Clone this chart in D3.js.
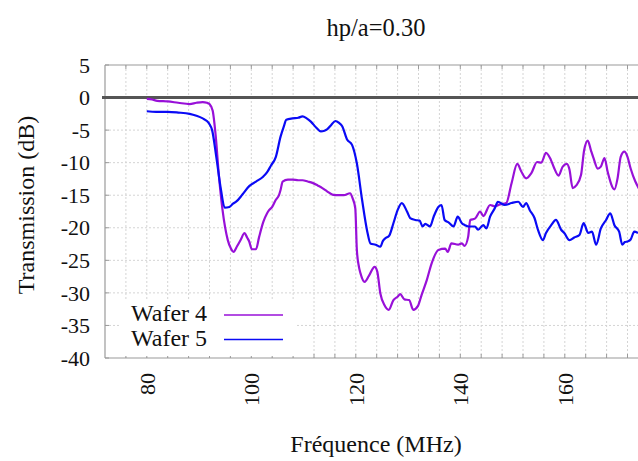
<!DOCTYPE html>
<html>
<head>
<meta charset="utf-8">
<script src="https://cdn.jsdelivr.net/npm/d3@7"></script>
<style>
  html, body { margin: 0; padding: 0; background: #fff; }
  svg { display: block; font-family: "Liberation Serif", "Times New Roman", serif; }
</style>
</head>
<body>
<svg id="chart" width="638" height="461"></svg>
<script>
// Measured transmission spectra (frequency in MHz, transmission in dB)
const freqW4 = [80, 81, 82, 84, 86, 88.2, 89.5, 90.7, 91.5, 92, 92.6, 93.2, 93.8, 94.5, 95.5, 96.1, 96.6, 97.3, 98, 98.7, 99.2, 99.6, 100.1, 100.9, 101.5, 102.3, 103, 103.4, 104, 104.7, 105.3, 105.6, 106, 107, 107.9, 109, 109.8, 110.8, 111.7, 112.7, 113.6, 114.5, 115.5, 116.5, 117.7, 118.9, 119.4, 119.9, 120.2, 120.6, 120.9, 121.7, 122.5, 123.6, 124.1, 124.7, 125.5, 126.3, 127.2, 128, 128.5, 129.3, 130.2, 131, 131.9, 132.6, 133.6, 134.5, 135.8, 137.1, 137.6, 138.3, 139.6, 140.3, 140.8, 141.5, 141.9, 142.8, 143.8, 144.4, 145.7, 146.6, 147.6, 148.8, 149.8, 150.9, 151.7, 152.6, 153.6, 154.7, 155.5, 156.4, 157.3, 158, 158.8, 159.6, 160.4, 160.9, 161.5, 162.2, 163.1, 163.7, 164.4, 165, 165.5, 166.3, 166.9, 167.6, 168.2, 169.5, 170.1, 170.7, 171.4, 172, 172.6, 173.5, 174.2];
const dbW4 = [-0.2, -0.3, -0.5, -0.6, -0.8, -1.0, -0.8, -0.7, -0.8, -1.0, -2.0, -6, -12, -17.3, -21.9, -23.2, -23.7, -22.8, -21.8, -20.8, -21.5, -22.1, -23.3, -23.3, -21.4, -19.1, -17.8, -17.3, -16.8, -15.7, -15.0, -14.2, -12.9, -12.6, -12.6, -12.7, -12.7, -12.9, -13.1, -13.5, -13.9, -14.4, -14.9, -15.0, -15.0, -14.7, -15.5, -17, -23.4, -26, -27, -28.3, -27.4, -26.0, -26.7, -30.1, -31.9, -32.6, -31.1, -30.6, -30.2, -31.0, -31.1, -32.6, -32.0, -30.3, -28.0, -25.5, -23.4, -23.2, -23.7, -22.4, -22.6, -22.4, -22.8, -21.4, -18.8, -18.6, -17.5, -18.2, -16.5, -16.7, -16.4, -16.2, -13.2, -10.2, -11.4, -12.4, -11.6, -9.9, -10.0, -8.5, -9.5, -10.9, -12.0, -10.6, -10.2, -11.1, -13.9, -13.5, -11.9, -8.1, -6.6, -8.1, -9.3, -10.9, -10.6, -9.3, -11.4, -14.1, -12.4, -9.1, -8.3, -9.1, -10.9, -12.9, -14];

const freqW5 = [80, 81.8, 84, 86, 88.2, 89.5, 90.7, 91.5, 92, 92.5, 93.3, 94.2, 94.9, 95.8, 96.5, 97.1, 98.3, 99.6, 100.9, 102.2, 103, 103.8, 104.7, 105.6, 106.2, 106.7, 107.9, 109, 109.8, 110.6, 111.4, 112.4, 113.3, 114, 114.5, 115.3, 116.1, 116.8, 117.4, 118.3, 119.3, 120.2, 121.2, 122.2, 122.8, 123.8, 124.7, 125.2, 125.7, 126.4, 127.2, 128, 128.8, 129.8, 130.4, 131.4, 132.2, 132.8, 133.3, 134.2, 134.9, 135.8, 136.4, 137, 137.8, 138.7, 139.5, 140.3, 140.9, 141.5, 142.8, 143.4, 144.4, 145, 145.7, 146.6, 147.2, 148.5, 149.8, 151.1, 152, 152.6, 153.3, 154.2, 154.9, 155.8, 156.4, 157.4, 158.3, 159.3, 159.9, 160.9, 161.8, 162.8, 163.6, 164.5, 165.2, 166, 166.9, 167.9, 168.7, 169.5, 170.4, 171, 171.5, 172, 172.6, 173.3, 174];
const dbW5 = [-2.1, -2.2, -2.2, -2.3, -2.5, -2.8, -3.2, -3.6, -4.1, -5.0, -9.1, -14.2, -16.9, -16.8, -16.3, -16.0, -14.9, -13.6, -12.9, -12.2, -11.5, -10.4, -9.1, -6.0, -4.5, -3.4, -3.2, -3.1, -2.9, -3.2, -3.7, -4.6, -5.2, -5.1, -4.9, -4.2, -3.6, -3.9, -4.4, -6.4, -7.3, -10.1, -15.7, -20.6, -22.4, -22.6, -22.9, -22.0, -21.6, -21.2, -19.3, -17.3, -16.2, -17.5, -18.5, -18.8, -18.9, -19.8, -19.4, -19.8, -18.3, -16.8, -16.5, -18.8, -19.2, -19.8, -18.3, -19.3, -19.6, -19.8, -19.8, -20.3, -19.6, -20.1, -18.3, -17.0, -16.0, -16.5, -16.2, -16.0, -16.8, -16.2, -17.3, -18.5, -20.4, -21.9, -20.8, -19.6, -18.8, -20.3, -20.8, -21.9, -21.5, -21.1, -19.3, -20.8, -20.6, -22.6, -20.1, -18.8, -17.8, -19.6, -20.6, -22.6, -22.2, -22.1, -21.8, -20.6, -20.8];

const seriesNames = ["Wafer 4", "Wafer 5"];
const seriesColors = ["#9810d8", "#0a0af5"];
const xLabelTicks = [80, 100, 120, 140, 160];
const yTicks = [5, 0, -5, -10, -15, -20, -25, -30, -35, -40];
const chartTitle = "hp/a=0.30";
const xTitle = "Fréquence (MHz)";
const yTitle = "Transmission (dB)";

const svg = d3.select("#chart");
const plotLeft = 105, plotTop = 65, plotBottom = 358, plotRight = 648.4, plotEdge = 638;

const x = d3.scaleLinear().domain([72, 176]).range([plotLeft, plotRight]);
const y = d3.scaleLinear().domain([-40, 5]).range([plotBottom, plotTop]);

const gridX = d3.range(76, 177, 4);
const gridY = d3.range(-35, 5, 5);

// Dotted grid
const grid = svg.append("g");
grid.selectAll("line.gx").data(gridX).join("line")
  .attr("x1", d => x(d)).attr("x2", d => x(d))
  .attr("y1", plotTop).attr("y2", plotBottom)
  .attr("stroke", "#d4d4d4").attr("stroke-dasharray", "2,2").attr("stroke-width", 1);
grid.selectAll("line.gy").data(gridY).join("line")
  .attr("x1", plotLeft).attr("x2", plotEdge)
  .attr("y1", d => y(d)).attr("y2", d => y(d))
  .attr("stroke", "#d4d4d4").attr("stroke-dasharray", "2,2").attr("stroke-width", 1);

// Frame: top, left, bottom
const frame = svg.append("g").attr("stroke", "#9a9a9a").attr("stroke-width", 1.2).attr("fill", "none");
frame.append("line").attr("x1", plotLeft).attr("x2", plotEdge).attr("y1", plotTop).attr("y2", plotTop);
frame.append("line").attr("x1", plotLeft).attr("x2", plotLeft).attr("y1", plotTop).attr("y2", plotBottom);
frame.append("line").attr("x1", plotLeft).attr("x2", plotEdge).attr("y1", plotBottom).attr("y2", plotBottom);

// Inner tick marks
const ticks = svg.append("g").attr("stroke", "#9a9a9a").attr("stroke-width", 1);
ticks.selectAll("line.bt").data(gridX).join("line")
  .attr("x1", d => x(d)).attr("x2", d => x(d)).attr("y1", plotBottom).attr("y2", plotBottom - 4);
ticks.selectAll("line.tt").data(gridX).join("line")
  .attr("x1", d => x(d)).attr("x2", d => x(d)).attr("y1", plotTop).attr("y2", plotTop + 4);
ticks.selectAll("line.lt").data(yTicks).join("line")
  .attr("x1", plotLeft).attr("x2", plotLeft + 4).attr("y1", d => y(d)).attr("y2", d => y(d));

// Zero reference line
svg.append("line")
  .attr("x1", plotLeft - 3).attr("x2", plotEdge)
  .attr("y1", y(0)).attr("y2", y(0))
  .attr("stroke", "#555").attr("stroke-width", 3);

// Axis labels
svg.append("g").selectAll("text").data(yTicks).join("text")
  .attr("x", 90).attr("y", d => y(d)).attr("dy", "0.35em")
  .attr("text-anchor", "end").attr("font-size", 22).attr("fill", "#111")
  .text(d => d);

svg.append("g").selectAll("text").data(xLabelTicks).join("text")
  .attr("transform", d => `translate(${x(d)},373) rotate(-90)`)
  .attr("dy", "0.35em").attr("text-anchor", "end")
  .attr("font-size", 22).attr("fill", "#111")
  .text(d => d);

// Curves
const line = d3.line().x(d => x(d[0])).y(d => y(d[1])).curve(d3.curveMonotoneX);
const series = [
  d3.zip(freqW4, dbW4),
  d3.zip(freqW5, dbW5)
];
svg.append("g").selectAll("path").data(series).join("path")
  .attr("d", line)
  .attr("fill", "none")
  .attr("stroke", (d, i) => seriesColors[i])
  .attr("stroke-width", 2.2)
  .attr("stroke-linejoin", "round");

// Legend
const legend = svg.append("g");
legend.append("rect").attr("x", 120).attr("y", 300).attr("width", 175).attr("height", 56).attr("fill", "#fff");
seriesNames.forEach((name, i) => {
  const yy = 321 + i * 24.5;
  legend.append("text").attr("x", 131).attr("y", yy)
    .attr("font-size", 24).attr("fill", "#111").text(name);
  legend.append("line").attr("x1", 224).attr("x2", 283)
    .attr("y1", yy - 6).attr("y2", yy - 6)
    .attr("stroke", seriesColors[i]).attr("stroke-width", 1.6);
});

// Titles
svg.append("text").attr("x", 376).attr("y", 36).attr("text-anchor", "middle")
  .attr("font-size", 24.5).attr("fill", "#111").text(chartTitle);
svg.append("text").attr("x", 376).attr("y", 452).attr("text-anchor", "middle")
  .attr("font-size", 24).attr("fill", "#111").text(xTitle);
svg.append("text").attr("transform", "translate(34,205) rotate(-90)")
  .attr("text-anchor", "middle")
  .attr("font-size", 24).attr("fill", "#111").text(yTitle);
</script>
</body>
</html>
